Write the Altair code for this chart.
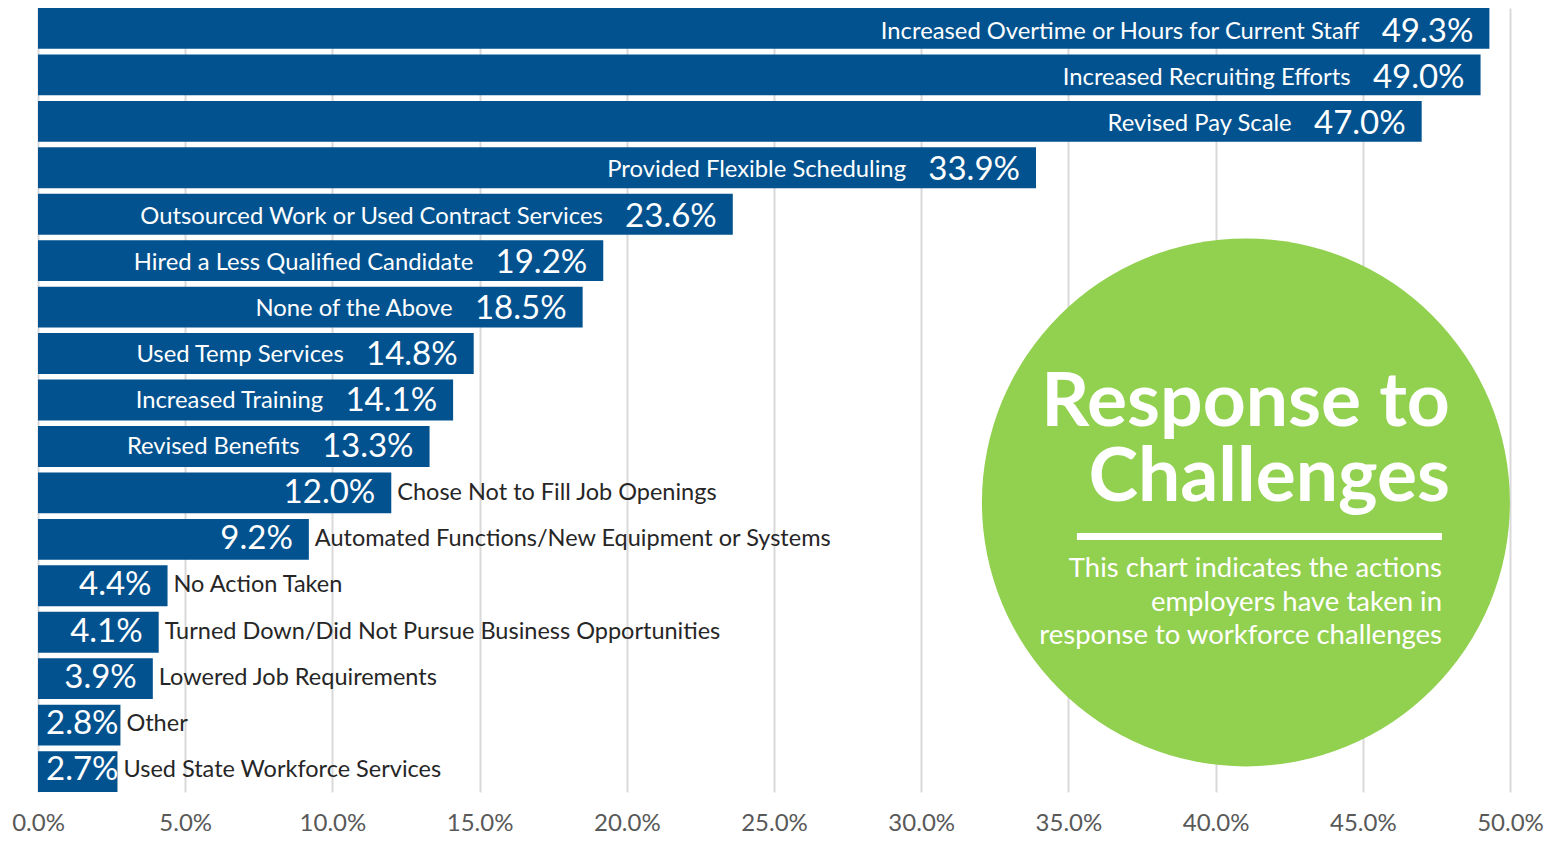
import altair as alt
import pandas as pd

categories = [
    "Increased Overtime or Hours for Current Staff",
    "Increased Recruiting Efforts",
    "Revised Pay Scale",
    "Provided Flexible Scheduling",
    "Outsourced Work or Used Contract Services",
    "Hired a Less Qualified Candidate",
    "None of the Above",
    "Used Temp Services",
    "Increased Training",
    "Revised Benefits",
    "Chose Not to Fill Job Openings",
    "Automated Functions/New Equipment or Systems",
    "No Action Taken",
    "Turned Down/Did Not Pursue Business Opportunities",
    "Lowered Job Requirements",
    "Other",
    "Used State Workforce Services",
]
values = [49.3, 49.0, 47.0, 33.9, 23.6, 19.2, 18.5, 14.8, 14.1, 13.3,
          12.0, 9.2, 4.4, 4.1, 3.9, 2.8, 2.7]
x_ticks = [0, 5, 10, 15, 20, 25, 30, 35, 40, 45, 50]

title_lines = ["Response to", "Challenges"]
subtitle = ["This chart indicates the actions",
            "employers have taken in",
            "response to workforce challenges"]

BLUE = "#01528F"
GREEN = "#92D050"
FONT = "Lato"

df = pd.DataFrame({"category": categories, "value": values})
df["idx"] = range(len(df))
df["label"] = df["value"].map(lambda v: f"{v:.1f}%")

xscale = alt.Scale(domain=[0, 50], nice=False, zero=True)
yscale = alt.Scale(domain=categories, paddingInner=0.12, paddingOuter=0.0)

xenc = alt.X("value:Q", scale=xscale,
             axis=alt.Axis(values=x_ticks, labelExpr="format(datum.value, '.1f') + '%'",
                           grid=True, gridColor="#D9D9D9", gridWidth=2,
                           domain=False, ticks=False, labelFontSize=24,
                           labelColor="#595959", labelFont=FONT, labelPadding=19,
                           labelFlush=False, title=None))
yenc = alt.Y("category:N", scale=yscale, axis=None, sort=categories)

base = alt.Chart(df)
bars = base.mark_bar(color=BLUE).encode(x=xenc, y=yenc)

in_names = base.transform_filter("datum.idx < 10").mark_text(
    align="right", baseline="middle", dx=-130, dy=1, color="white",
    font=FONT, fontSize=23.8).encode(x=alt.X("value:Q", scale=xscale), y=yenc, text="category:N")

in_vals = base.transform_filter("datum.value >= 3.5").mark_text(
    align="right", baseline="middle", dx=-16, dy=1, color="white",
    font=FONT, fontSize=33).encode(x=alt.X("value:Q", scale=xscale), y=yenc, text="label:N")

small_vals = base.transform_filter("datum.value < 3.5").transform_calculate(zero="0").mark_text(
    align="left", baseline="middle", dx=8, dy=1, color="white",
    font=FONT, fontSize=33).encode(x=alt.X("zero:Q", scale=xscale), y=yenc, text="label:N")

out_names = base.transform_filter("datum.idx >= 10").mark_text(
    align="left", baseline="middle", dx=6, dy=1, color="#262626",
    font=FONT, fontSize=23.5).encode(x=alt.X("value:Q", scale=xscale), y=yenc, text="category:N")

# annotation layers on a row-unit vertical scale
ascale = alt.Scale(domain=[0, 17], reverse=True, nice=False, zero=False)
def ay(v):
    return alt.Y(datum=v, type="quantitative", scale=ascale, axis=None)
def ax(v):
    return alt.X(datum=v, type="quantitative", scale=xscale)

ann = alt.Chart(pd.DataFrame({"a": [0]}))
circle = ann.mark_circle(color=GREEN, opacity=1, size=(2 * 264) ** 2).encode(
    x=ax(41.03), y=ay(10.72))

t1 = ann.mark_text(align="right", baseline="alphabetic", color="white", font=FONT,
                   fontWeight="bold", fontSize=75).encode(
    x=ax(47.96), y=ay(9.06), text=alt.value(title_lines[0]))
t2 = ann.mark_text(align="right", baseline="alphabetic", color="white", font=FONT,
                   fontWeight="bold", fontSize=75).encode(
    x=ax(47.96), y=ay(10.68), text=alt.value(title_lines[1]))
line = ann.mark_rule(color="white", strokeWidth=7).encode(
    x=ax(35.29), x2=alt.X2(datum=47.69), y=ay(11.46))
sub = ann.mark_text(align="right", baseline="alphabetic", color="white", font=FONT,
                    fontSize=27.5, lineHeight=33.5).encode(
    x=ax(47.69), y=ay(12.34), text=alt.value(subtitle))

chart = alt.layer(
    bars, in_names, in_vals, small_vals, out_names,
    circle, t1, t2, line, sub
).resolve_scale(y="independent").properties(
    width=1472, height=784,
    autosize=alt.AutoSizeParams(type="none"),
    padding={"left": 30, "top": 0, "right": 44, "bottom": 44},
).configure_view(strokeWidth=0)

chart.save("out.html", embed_options={"renderer": "svg", "actions": False})
